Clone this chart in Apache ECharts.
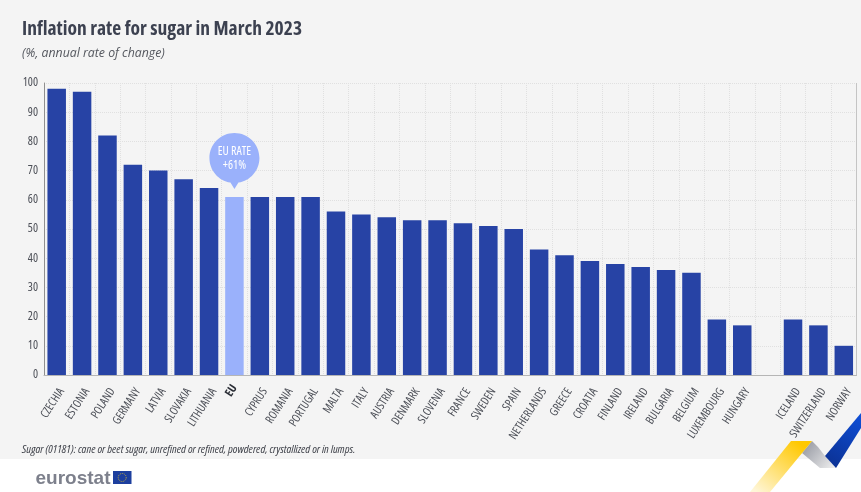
<!DOCTYPE html>
<html><head><meta charset="utf-8">
<style>html,body{margin:0;padding:0;background:#fff}#c{width:861px;height:492px}</style>
<script src="https://cdn.jsdelivr.net/npm/echarts@6/dist/echarts.min.js"></script>
</head><body><div id="c"></div>
<script>
const categories=['CZECHIA','ESTONIA','POLAND','GERMANY','LATVIA','SLOVAKIA','LITHUANIA','EU','CYPRUS','ROMANIA','PORTUGAL','MALTA','ITALY','AUSTRIA','DENMARK','SLOVENIA','FRANCE','SWEDEN','SPAIN','NETHERLANDS','GREECE','CROATIA','FINLAND','IRELAND','BULGARIA','BELGIUM','LUXEMBOURG','HUNGARY','','ICELAND','SWITZERLAND','NORWAY'];
const values=[98,97,82,72,70,67,64,61,61,61,61,56,55,54,53,53,52,51,50,43,41,39,38,37,36,35,19,17,null,19,17,10];
const yTicks=[0,10,20,30,40,50,60,70,80,90,100];
const euName='EU', euValue=61;
const FONT='"Open Sans",sans-serif';
const NARROW='condensed', NARROW_BOLD='bold condensed';
const chart=echarts.init(document.getElementById('c'),null,{renderer:'canvas'});
const lin=(x,y,x2,y2,a,b)=>({type:'linear',x,y,x2,y2,colorStops:[{offset:0,color:a},{offset:1,color:b}]});
chart.setOption({
 animation:false,
 backgroundColor:'#ffffff',
 grid:{left:44,right:4.5,top:83,bottom:117,containLabel:false},
 title:[
  {text:'Inflation rate for sugar in March 2023',left:22,top:19,padding:0,textStyle:{fontFamily:FONT,fontSize:19.5,fontWeight:NARROW_BOLD,color:'#3c4150'}},
  {text:'(%, annual rate of change)',left:22,top:47,padding:0,textStyle:{fontFamily:FONT,fontSize:12.3,fontStyle:'italic',fontWeight:'normal',color:'#55585f'}},
  {text:'Sugar (01181): cane or beet sugar, unrefined or refined, powdered, crystallized or in lumps.',left:22,top:444,padding:0,textStyle:{fontFamily:FONT,fontSize:11.6,fontStyle:'italic',fontWeight:NARROW,color:'#3f424a'}},
  {text:'eurostat',left:35.5,top:469,padding:0,textStyle:{fontFamily:'"Liberation Sans",sans-serif',fontSize:19,fontWeight:'bold',color:'#7d808c'}}
 ],
 xAxis:{type:'category',data:categories.map(c=>c===euName?{value:c,textStyle:{fontWeight:NARROW_BOLD,color:'#2a2d35'}}:c),
  axisLine:{lineStyle:{color:'#b5b5b5',width:1.2}},axisTick:{show:false},
  splitLine:{show:true,interval:0,lineStyle:{color:'#e0e0e0',type:'dotted',width:1}},
  axisLabel:{interval:0,rotate:57,margin:11,verticalAlign:'top',fontFamily:FONT,fontWeight:NARROW,fontSize:11.7,color:'#4c4f57'}},
 yAxis:{type:'value',min:yTicks[0],max:yTicks[yTicks.length-1],interval:10,
  axisLine:{show:true,lineStyle:{color:'#8f8f8f',width:1}},axisTick:{show:false},
  splitLine:{show:true,lineStyle:{color:'#e0e0e0',type:'dotted',width:1}},
  axisLabel:{margin:6,fontFamily:FONT,fontWeight:NARROW,fontSize:12,color:'#4c4f57'}},
 series:[{type:'bar',barWidth:18.5,z:3,
  data:categories.map((c,i)=>c===euName?{value:values[i],itemStyle:{color:'#9ab1fb'}}:values[i]),
  itemStyle:{color:'#2743a5'},
  markPoint:{silent:true,z:5,data:[{coord:[euName,euValue],
   symbol:'path://M25 0C11.2 0 0 11.2 0 25C0 37.5 9.2 47.8 21 49.7L25 56L29 49.7C40.8 47.8 50 37.5 50 25C50 11.2 38.8 0 25 0Z',
   symbolSize:[50,56],symbolKeepAspect:false,symbolOffset:[0,-36],
   itemStyle:{color:'#9ab1fb'},
   label:{show:true,position:'inside',offset:[0,-2],formatter:'EU RATE\n+'+euValue+'%',color:'#ffffff',fontFamily:FONT,fontWeight:NARROW,fontSize:12,lineHeight:14,align:'center'}}]}
 }],
 graphic:[
  {type:'rect',z:-10,silent:true,shape:{x:0,y:0,width:861,height:459},style:{fill:'#f4f4f4'}},
  {type:'line',z:1,silent:true,shape:{x1:856.5,y1:83,x2:856.5,y2:375},style:{stroke:'#c4c4c4',lineWidth:1}},
  {type:'rect',z:10,shape:{x:113,y:471,width:18.5,height:13},style:{fill:'#1d3f9e'}},
  {type:'circle',z:11,shape:{cx:122.2,cy:477.5,r:4},style:{fill:'none',stroke:'#c9b23a',lineWidth:1,lineDash:[1,1]}},
  {type:'polygon',z:10,shape:{points:[[791,441],[812,441],[770,492],[750,492]]},style:{fill:lin(0.75,0,0.1,1,'#ffc800','#fff6d8')}},
  {type:'polygon',z:9,shape:{points:[[812,441],[802,453],[820,468],[836,468],[825,456],[818,447]]},style:{fill:lin(0,0,1,1,'#8f929c','#f2f2f2')}},
  {type:'polygon',z:10,shape:{points:[[861,413],[861,428],[836,468],[825,456]]},style:{fill:lin(1,0,0,1,'#0f4fd8','#0b2f8f')}}
 ]
});
</script></body></html>
